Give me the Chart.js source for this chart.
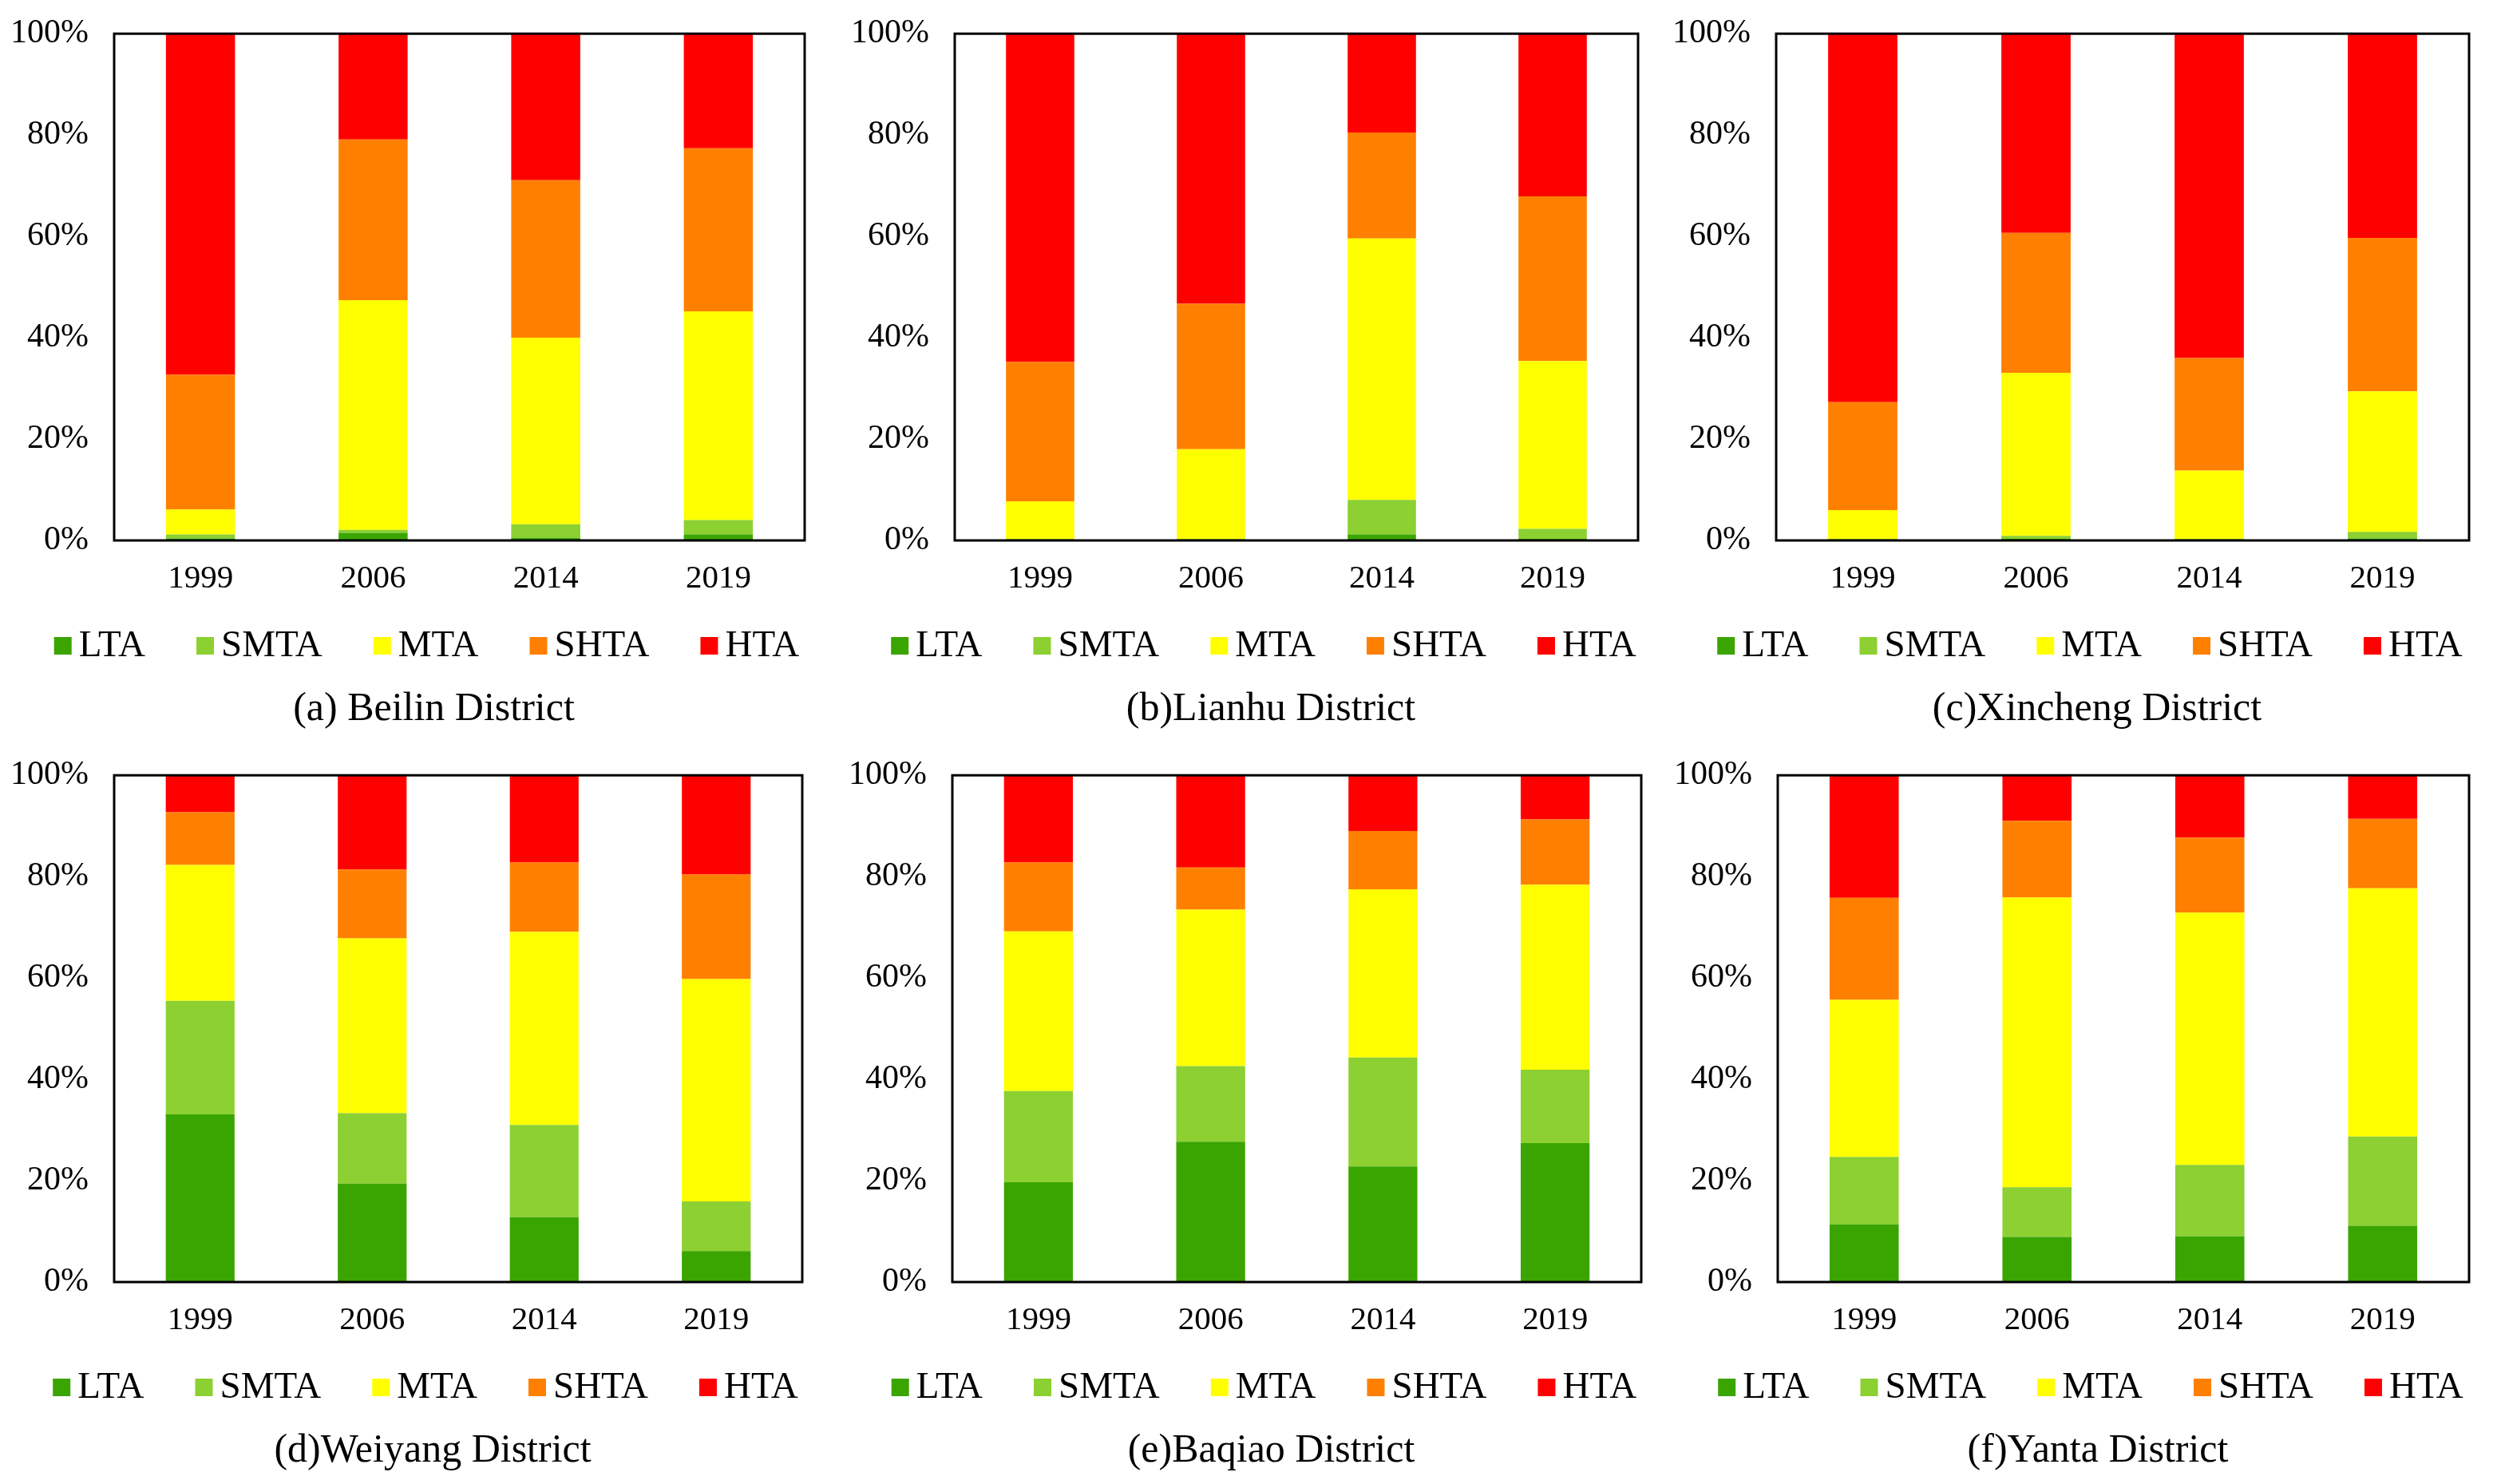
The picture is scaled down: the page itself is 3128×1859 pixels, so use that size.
<!DOCTYPE html>
<html>
<head>
<meta charset="utf-8">
<script src="https://cdn.jsdelivr.net/npm/chart.js@4"></script>
<style>
  html, body { margin: 0; padding: 0; background: #fff; }
  body { width: 3128px; height: 1859px; position: relative; overflow: hidden; }
  .panel { position: absolute; }
</style>
</head>
<body>
<div class="panel" id="pa"><canvas id="ca"></canvas></div>
<div class="panel" id="pb"><canvas id="cb"></canvas></div>
<div class="panel" id="pc"><canvas id="cc"></canvas></div>
<div class="panel" id="pd"><canvas id="cd"></canvas></div>
<div class="panel" id="pe"><canvas id="ce"></canvas></div>
<div class="panel" id="pf"><canvas id="cf"></canvas></div>
<script>
// categories and classes
const years = ["1999", "2006", "2014", "2019"];
const classes = ["LTA", "SMTA", "MTA", "SHTA", "HTA"];
const classColors = ["#3aa500", "#8cd032", "#ffff00", "#ff8000", "#ff0000"];
const yTicks = [0, 20, 40, 60, 80, 100];

// share (%) per class (rows: LTA, SMTA, MTA, SHTA, HTA), per year
const beilin = [
  [0.4, 1.5, 0.5, 1.2],
  [0.8, 0.6, 2.7, 2.8],
  [4.9, 45.3, 36.8, 41.2],
  [26.6, 31.7, 31.1, 32.2],
  [67.3, 20.9, 28.9, 22.6]
];
const lianhu = [
  [0.1, 0.1, 1.2, 0.3],
  [0.2, 0.2, 6.8, 2.0],
  [7.4, 17.7, 51.6, 33.1],
  [27.5, 28.7, 20.9, 32.5],
  [64.8, 53.3, 19.5, 32.1]
];
const xincheng = [
  [0.1, 0.3, 0.1, 0.4],
  [0.2, 0.6, 0.2, 1.3],
  [5.7, 32.2, 13.5, 27.7],
  [21.3, 27.6, 22.2, 30.3],
  [72.7, 39.3, 64.0, 40.3]
];
const weiyang = [
  [33.1, 19.4, 12.8, 6.1],
  [22.4, 13.9, 18.2, 9.8],
  [26.8, 34.5, 38.1, 43.9],
  [10.4, 13.6, 13.7, 20.6],
  [7.3, 18.6, 17.2, 19.6]
];
const baqiao = [
  [19.7, 27.7, 22.8, 27.4],
  [18.0, 14.9, 21.5, 14.5],
  [31.5, 30.9, 33.2, 36.5],
  [13.6, 8.3, 11.5, 12.9],
  [17.2, 18.2, 11.0, 8.7]
];
const yanta = [
  [11.4, 8.9, 9.0, 11.1],
  [13.3, 9.8, 14.1, 17.6],
  [31.0, 57.2, 49.8, 49.0],
  [20.1, 15.1, 14.8, 13.7],
  [24.2, 9.0, 12.3, 8.6]
];

const FONT = '"Liberation Serif", "Times New Roman", serif';

// panel placement: div box, y axis width, right padding
// (divs start 15px above their row so the plot top lands where the figure has it)
const panels = [
  { id: "a", data: beilin,   title: "(a) Beilin District",   x: 0,    y: -15, w: 1040, axisW: 143, padR: 32 },
  { id: "b", data: lianhu,   title: "(b)Lianhu District",    x: 1040, y: -15, w: 1040, axisW: 156, padR: 28 },
  { id: "c", data: xincheng, title: "(c)Xincheng District",  x: 2080, y: -15, w: 1048, axisW: 145, padR: 35 },
  { id: "d", data: weiyang,  title: "(d)Weiyang District",   x: 0,    y: 914, w: 1040, axisW: 143, padR: 35 },
  { id: "e", data: baqiao,   title: "(e)Baqiao District",    x: 1040, y: 914, w: 1040, axisW: 153, padR: 24 },
  { id: "f", data: yanta,    title: "(f)Yanta District",     x: 2080, y: 914, w: 1048, axisW: 147, padR: 35 }
];

// box round the plot area
const frame = {
  id: "frame",
  afterDatasetsDraw(chart) {
    const a = chart.chartArea, ctx = chart.ctx;
    ctx.save();
    ctx.strokeStyle = "#000";
    ctx.lineWidth = 3;
    ctx.strokeRect(a.left, a.top, a.right - a.left, a.bottom - a.top);
    ctx.restore();
  }
};

// legend row + caption under the axis
const legendRow = {
  id: "legendRow",
  afterDraw(chart, args, opts) {
    const ctx = chart.ctx, a = chart.chartArea;
    const mid = (a.left + a.right) / 2;
    ctx.save();
    ctx.font = "47px " + FONT;
    ctx.textBaseline = "middle";
    ctx.textAlign = "left";
    const box = 22, gap = 9, space = 64;
    const sets = chart.data.datasets;
    const widths = sets.map(d => ctx.measureText(d.label).width);
    let total = 0;
    widths.forEach((w, i) => { total += box + gap + w + (i < widths.length - 1 ? space : 0); });
    let x = mid - 41 - total / 2;
    const ly = a.bottom + 131;
    sets.forEach((d, i) => {
      ctx.fillStyle = d.backgroundColor;
      ctx.fillRect(x, ly - box / 2 + 1, box, box);
      ctx.fillStyle = "#000";
      ctx.fillText(d.label, x + box + gap, ly + 2);
      x += box + gap + widths[i] + space;
    });
    ctx.font = "50px " + FONT;
    ctx.textAlign = "center";
    ctx.fillText(opts.text, mid - 32, a.bottom + 212);
    ctx.restore();
  }
};

panels.forEach(p => {
  const div = document.getElementById("p" + p.id);
  div.style.left = p.x + "px";
  div.style.top = p.y + "px";
  div.style.width = p.w + "px";
  div.style.height = "945px";

  const datasets = classes.map((name, i) => ({
    label: name,
    data: p.data[i],
    backgroundColor: classColors[i],
    borderWidth: 0,
    barPercentage: 0.4,
    categoryPercentage: 1.0
  }));

  new Chart(document.getElementById("c" + p.id), {
    type: "bar",
    data: { labels: years, datasets: datasets },
    options: {
      responsive: true,
      maintainAspectRatio: false,
      devicePixelRatio: 1,
      animation: false,
      layout: { padding: { top: 0, right: p.padR, bottom: 0, left: 0 } },
      plugins: {
        legend: { display: false },
        tooltip: { enabled: false },
        legendRow: { text: p.title }
      },
      scales: {
        x: {
          stacked: true,
          grid: { display: false, drawTicks: false },
          border: { display: false },
          ticks: { color: "#000", font: { family: FONT, size: 41 }, padding: 24 },
          afterFit(s) { s.height = 253; }
        },
        y: {
          stacked: true,
          min: 0,
          max: 100,
          afterBuildTicks(s) { s.ticks = yTicks.map(v => ({ value: v })); },
          grid: { display: false, drawTicks: false },
          border: { display: false },
          ticks: {
            color: "#000",
            font: { family: FONT, size: 42 },
            padding: 32,
            callback: v => v + "%"
          },
          afterFit(s) { s.width = p.axisW; }
        }
      }
    },
    plugins: [frame, legendRow]
  });
});
</script>
</body>
</html>
